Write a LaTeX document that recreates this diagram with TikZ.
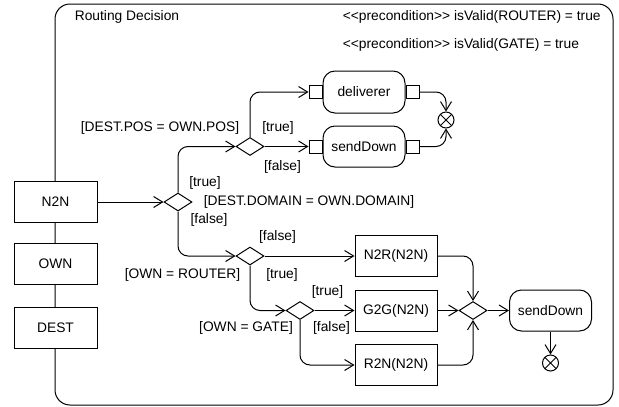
\documentclass[tikz,border=0pt]{standalone}
\usepackage{fontspec}
\setmainfont{Liberation Sans}
\usepackage{tikz}
\usetikzlibrary{shapes.geometric, positioning, arrows.meta}
\tikzset{
  action/.style={rectangle, draw, fill=white, minimum width=83, minimum height=41},
  activity/.style={rectangle, rounded corners=12pt, draw, fill=white, minimum width=82, minimum height=41},
  decision/.style={diamond, draw, fill=white, minimum width=28, minimum height=18, inner sep=0pt},
  pinbox/.style={rectangle, draw, fill=white, minimum size=13, inner sep=0pt},
  flowfinal/.style={circle, draw, fill=white, minimum size=16, inner sep=0pt,
    path picture={\draw (path picture bounding box.north west) -- (path picture bounding box.south east)
      (path picture bounding box.south west) -- (path picture bounding box.north east);}},
  flow/.style={-{Straight Barb[length=9pt,width=11pt]}, rounded corners=10pt}
}

\begin{document}
\begin{tikzpicture}[x=1pt, y=-1pt, line width=1pt, font=\fontsize{13.8}{16}\selectfont]
\useasboundingbox (0,0) rectangle (619,407);

\node[draw, rounded corners=15pt, minimum width=558, minimum height=401, inner sep=0pt] (frame) at (334,204.5) {};
\node[anchor=west] (title) at (71,17) {Routing Decision};
\node[anchor=west] (preroute) at (339,17) {<{}<precondition>{}> isValid(ROUTER) = true};
\node[anchor=west] (pregate) at (339,45) {<{}<precondition>{}> isValid(GATE) = true};

% parameter nodes on the frame
\node[action] (n2n) at (55.5,202) {N2N};
\node[action] (own) at (55.5,264) {OWN};
\node[action] (dest) at (55.5,328) {DEST};

% decisions
\node[decision] (d1) at (178,202) {};
\node[decision] (d2) at (250,146.5) {};
\node[decision] (d3) at (250,256) {};
\node[decision] (d4) at (300,310.5) {};
\node[decision] (merge) at (473,310.5) {};

% upper branch
\node[activity, minimum height=42] (deliverer) at (364,92) {deliverer};
\node[pinbox, left=0pt of deliverer] (dlvin) {};
\node[pinbox, right=0pt of deliverer] (dlvout) {};
\node[activity] (send1) at (364,146.5) {sendDown};
\node[pinbox, left=0pt of send1] (sdin) {};
\node[pinbox, right=0pt of send1] (sdout) {};
\node[flowfinal] (end1) at (446,120) {};

% lower branch
\node[action, minimum width=82] (n2r) at (396,256) {N2R(N2N)};
\node[action, minimum width=82] (g2g) at (396,310.5) {G2G(N2N)};
\node[action, minimum width=82] (r2n) at (396,365) {R2N(N2N)};
\node[activity] (send2) at (550.5,310.5) {sendDown};
\node[flowfinal] (end2) at (550.5,363) {};

\draw[flow] (n2n) -- (d1);
\draw[flow] (d1.north) |- (d2.west);
\draw[flow] (d1.south) |- (d3.west);
\draw[flow] (d2.north) |- (dlvin.west);
\draw[flow] (d2) -- (sdin);
\draw[flow] (dlvout.east) -| (end1.north);
\draw[flow] (sdout.east) -| (end1.south);
\draw[flow] (d3) -- (n2r);
\draw[flow] (d3.south) |- (d4.west);
\draw[flow] (d4) -- (g2g);
\draw[flow] (d4.south) |- (r2n.west);
\draw[flow] (n2r.east) -| (merge.north);
\draw[flow] (g2g) -- (merge);
\draw[flow] (r2n.east) -| (merge.south);
\draw[flow] (merge) -- (send2);
\draw[flow] (send2) -- (end2);

% guards
\node (gpos) at (160,128) {[DEST.POS = OWN.POS]};
\node (t2) at (278,128) {[true]};
\node (f2) at (282.5,167) {[false]};
\node (t1) at (205,183) {[true]};
\node[anchor=west] (gdomain) at (200,202) {[DEST.DOMAIN = OWN.DOMAIN]};
\node (f1) at (209,220) {[false]};
\node (f3) at (277.5,237) {[false]};
\node (grouter) at (182.5,275) {[OWN = ROUTER]};
\node (t3) at (282,275) {[true]};
\node (ggate) at (246,328) {[OWN = GATE]};
\node (t4) at (327.5,292) {[true]};
\node (f4) at (331.5,328) {[false]};

\end{tikzpicture}
\end{document}
